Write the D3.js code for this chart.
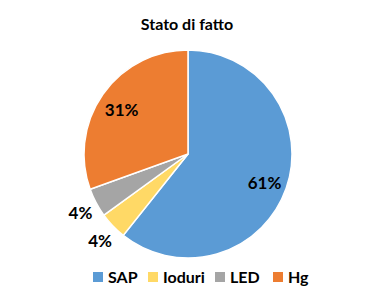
<!DOCTYPE html>
<html>
<meta charset="utf-8">
<style>
  body { margin: 0; background: #fff; }
  text { font-family: Lato, "Open Sans", sans-serif; font-weight: bold; fill: #000; }
</style>
<body>
  <script src="https://d3js.org/d3.v7.min.js"></script>
  <script>
    let width = 365,
      height = 300;

    // data
    let categories = ["SAP", "Ioduri", "LED", "Hg"];
    let values = [60.7, 4.3, 4.5, 30.5];
    let labels = ["61%", "4%", "4%", "31%"];
    let colors = ["#5B9BD5", "#FFD966", "#A5A5A5", "#ED7D31"];
    let title = "Stato di fatto";

    let cx = 188, cy = 154, radius = 104;

    let svg = d3.select("body").append("svg")
      .attr("width", width)
      .attr("height", height);

    svg.append("text")
      .attr("x", 187)
      .attr("y", 30)
      .attr("text-anchor", "middle")
      .style("font-size", "16px")
      .text(title);

    let pie = d3.pie().sort(null).value(d => d);
    let arcs = pie(values);
    let arc = d3.arc().innerRadius(0).outerRadius(radius);

    let g = svg.append("g").attr("transform", `translate(${cx},${cy})`);

    g.selectAll("path")
      .data(arcs)
      .join("path")
      .attr("d", arc)
      .attr("fill", (d, i) => colors[i])
      .attr("stroke", "#fff")
      .attr("stroke-width", 1.5);

    // label positions: inside for big slices, outside for small ones
    let inside = d3.arc().innerRadius(radius * 0.78).outerRadius(radius * 0.78);
    let outside = d3.arc().innerRadius(radius * 1.17).outerRadius(radius * 1.17);

    g.selectAll(".lbl")
      .data(arcs)
      .join("text")
      .attr("class", "lbl")
      .attr("transform", d => {
        let p = (d.data > 10 ? inside : outside).centroid(d);
        return `translate(${p[0]},${p[1]})`;
      })
      .attr("text-anchor", "middle")
      .attr("dy", "0.5em")
      .style("font-size", "17px")
      .text((d, i) => labels[i]);

    // legend
    let legendX = [93, 148, 215, 273];
    let legend = svg.selectAll(".leg")
      .data(categories)
      .join("g")
      .attr("class", "leg")
      .attr("transform", (d, i) => `translate(${legendX[i]},277)`);

    legend.append("rect")
      .attr("x", 0)
      .attr("y", -5)
      .attr("width", 10)
      .attr("height", 10)
      .attr("fill", (d, i) => colors[i]);

    legend.append("text")
      .attr("x", 15)
      .attr("dy", "0.36em")
      .style("font-size", "16px")
      .text(d => d);
  </script>
</body>
</html>
